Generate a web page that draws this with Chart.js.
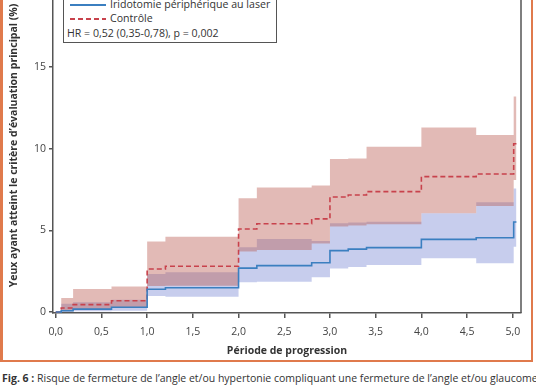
<!DOCTYPE html>
<html>
<head>
<meta charset="utf-8">
<script src="https://cdn.jsdelivr.net/npm/chart.js@4.4.0/dist/chart.umd.min.js"></script>
<style>
  body { margin: 0; width: 536px; height: 386px; overflow: hidden; background: #fff; position: relative; font-family: "Open Sans", sans-serif; color: #333; }
  #cadre { position: absolute; left: 0; top: -10px; width: 528px; height: 370px; border-left: 3px solid #e07a4c; border-right: 2px solid #e07a4c; border-bottom: 2px solid #e07a4c; }
  #boite { position: absolute; left: 4px; top: -40px; width: 527px; height: 402px; }
  #legende { position: absolute; left: 63px; top: -20px; width: 214px; height: 63px; box-sizing: border-box; border: 1px solid #555; background: #fff; font-size: 10.6px; line-height: 14px; white-space: nowrap; }
  .ligne { position: absolute; left: 0; height: 14px; }
  .trait { position: absolute; left: 6px; top: 7px; width: 36px; height: 1.5px; }
  .lab { position: absolute; left: 46px; top: 0; }
  #note { position: absolute; left: 3px; top: 45px; }
  #legende-texte { position: absolute; left: 2px; top: 371px; font-size: 10.5px; white-space: nowrap; }
</style>
</head>
<body>
<div id="cadre"></div>
<div id="boite"><canvas id="graphique"></canvas></div>
<div id="legende">
  <div class="ligne" style="top:16px"><div class="trait" style="background:#3b7fc0"></div><span class="lab" id="lab0"></span></div>
  <div class="ligne" style="top:30px"><div class="trait" style="background:repeating-linear-gradient(to right, #c8424c 0 5px, transparent 5px 8px)"></div><span class="lab" id="lab1"></span></div>
  <div id="note">HR = 0,52 (0,35-0,78), p = 0,002</div>
</div>
<div id="legende-texte"><b>Fig. 6 :</b> Risque de fermeture de l’angle et/ou hypertonie compliquant une fermeture de l’angle et/ou glaucome par fermeture de l’angle.</div>
<script>
// temps (années) où les courbes changent de palier
const temps = [0, 0.06, 0.19, 0.61, 1.0, 1.2, 2.0, 2.2, 2.8, 3.0, 3.2, 3.4, 4.0, 4.6, 5.01, 5.04]

// Contrôle
const controle     = [0, 0.25, 0.45, 0.69, 2.63, 2.8, 5.08, 5.4, 5.7, 7.04, 7.16, 7.37, 8.29, 8.45, 10.3, 10.3]
const controleBas  = [0, 0.05, 0.15, 0.25, 1.6, 1.61, 3.7, 3.8, 4.2, 5.23, 5.3, 5.37, 6.04, 6.49, 8.08, 8.08]
const controleHaut = [0, 0.86, 1.41, 1.57, 4.31, 4.61, 6.96, 7.63, 7.74, 9.37, 9.4, 10.12, 11.3, 10.84, 13.2, 13.2]

// Iridotomie périphérique au laser
const laser     = [0, 0.08, 0.18, 0.29, 1.39, 1.49, 2.69, 2.84, 3.02, 3.76, 3.85, 3.94, 4.45, 4.55, 5.51, 5.51]
const laserBas  = [0, 0.02, 0.05, 0.08, 0.98, 0.94, 1.82, 1.86, 2.13, 2.67, 2.75, 2.88, 3.29, 2.98, 4.0, 4.0]
const laserHaut = [0, 0.5, 0.6, 0.75, 2.33, 2.43, 3.96, 4.47, 4.35, 5.43, 5.48, 5.53, 6.04, 6.72, 7.57, 7.57]

const nomsSeries = ['Iridotomie périphérique au laser', 'Contrôle']
const ticksY = [0, 5, 10, 15]

const points = valeurs => valeurs.map((v, i) => ({ x: temps[i], y: v }))

const bordGraphique = {
  id: 'bordGraphique',
  afterDraw(chart) {
    const { ctx, chartArea } = chart
    ctx.save()
    ctx.strokeStyle = '#555'
    ctx.lineWidth = 1.5
    ctx.beginPath()
    ctx.moveTo(chartArea.right, chartArea.top)
    ctx.lineTo(chartArea.right, chartArea.bottom)
    ctx.stroke()
    ctx.restore()
  }
}

const courbe = (label, valeurs, couleur, dash) => ({
  label, data: points(valeurs), stepped: true, borderColor: couleur, borderWidth: 1.6,
  borderDash: dash, pointRadius: 0, fill: false, order: 0
})
const bande = (bas, haut, couleur) => [
  { label: 'bas', data: points(bas), stepped: true, borderWidth: 0, pointRadius: 0, fill: false, order: 2 },
  { label: 'haut', data: points(haut), stepped: true, borderWidth: 0, pointRadius: 0, fill: '-1', backgroundColor: couleur, order: 2 }
]

document.getElementById('lab0').textContent = nomsSeries[0]
document.getElementById('lab1').textContent = nomsSeries[1]

const police = { family: '"Open Sans", sans-serif', size: 10.5 }

new Chart(document.getElementById('graphique'), {
  type: 'line',
  data: {
    datasets: [
      courbe(nomsSeries[0], laser, '#3b7fc0', []),
      courbe(nomsSeries[1], controle, '#c8424c', [5, 3]),
      ...bande(controleBas, controleHaut, 'rgba(185, 90, 80, 0.42)'),
      ...bande(laserBas, laserHaut, 'rgba(115, 130, 210, 0.4)')
    ]
  },
  options: {
    responsive: true,
    maintainAspectRatio: false,
    animation: false,
    devicePixelRatio: 1,
    layout: { padding: { top: 18, right: 10, left: 0, bottom: 0 } },
    plugins: { legend: { display: false }, tooltip: { enabled: false } },
    scales: {
      x: {
        type: 'linear', min: -0.03, max: 5.09,
        afterFit: s => { s.height = 49 },
        grid: { drawOnChartArea: false, drawTicks: true, tickLength: 5, color: '#555', lineWidth: 1.5 },
        border: { color: '#555', width: 1.5 },
        ticks: {
          stepSize: 0.5, includeBounds: false, autoSkip: false, maxRotation: 0, padding: 8,
          color: '#444', font: police,
          callback: v => v.toFixed(1).replace('.', ',')
        },
        title: { display: true, text: 'Période de progression', color: '#333', font: { ...police, weight: 'bold' }, padding: { top: 0, bottom: 5 } }
      },
      y: {
        type: 'linear', min: -0.06, max: 20.45,
        afterFit: s => { s.width = 49 },
        grid: { drawOnChartArea: false, drawTicks: true, tickLength: 4, color: '#555', lineWidth: 1.5 },
        border: { color: '#555', width: 1.5 },
        ticks: {
          stepSize: 5, includeBounds: false, padding: 3, color: '#444', font: police,
          callback: v => ticksY.includes(v) ? String(v) : ''
        },
        title: { display: true, text: 'Yeux ayant atteint le critère d’évaluation principal (%)', color: '#333', font: { ...police, weight: 'bold' }, padding: { top: 4, bottom: 0 } }
      }
    }
  },
  plugins: [bordGraphique]
})
</script>
</body>
</html>
